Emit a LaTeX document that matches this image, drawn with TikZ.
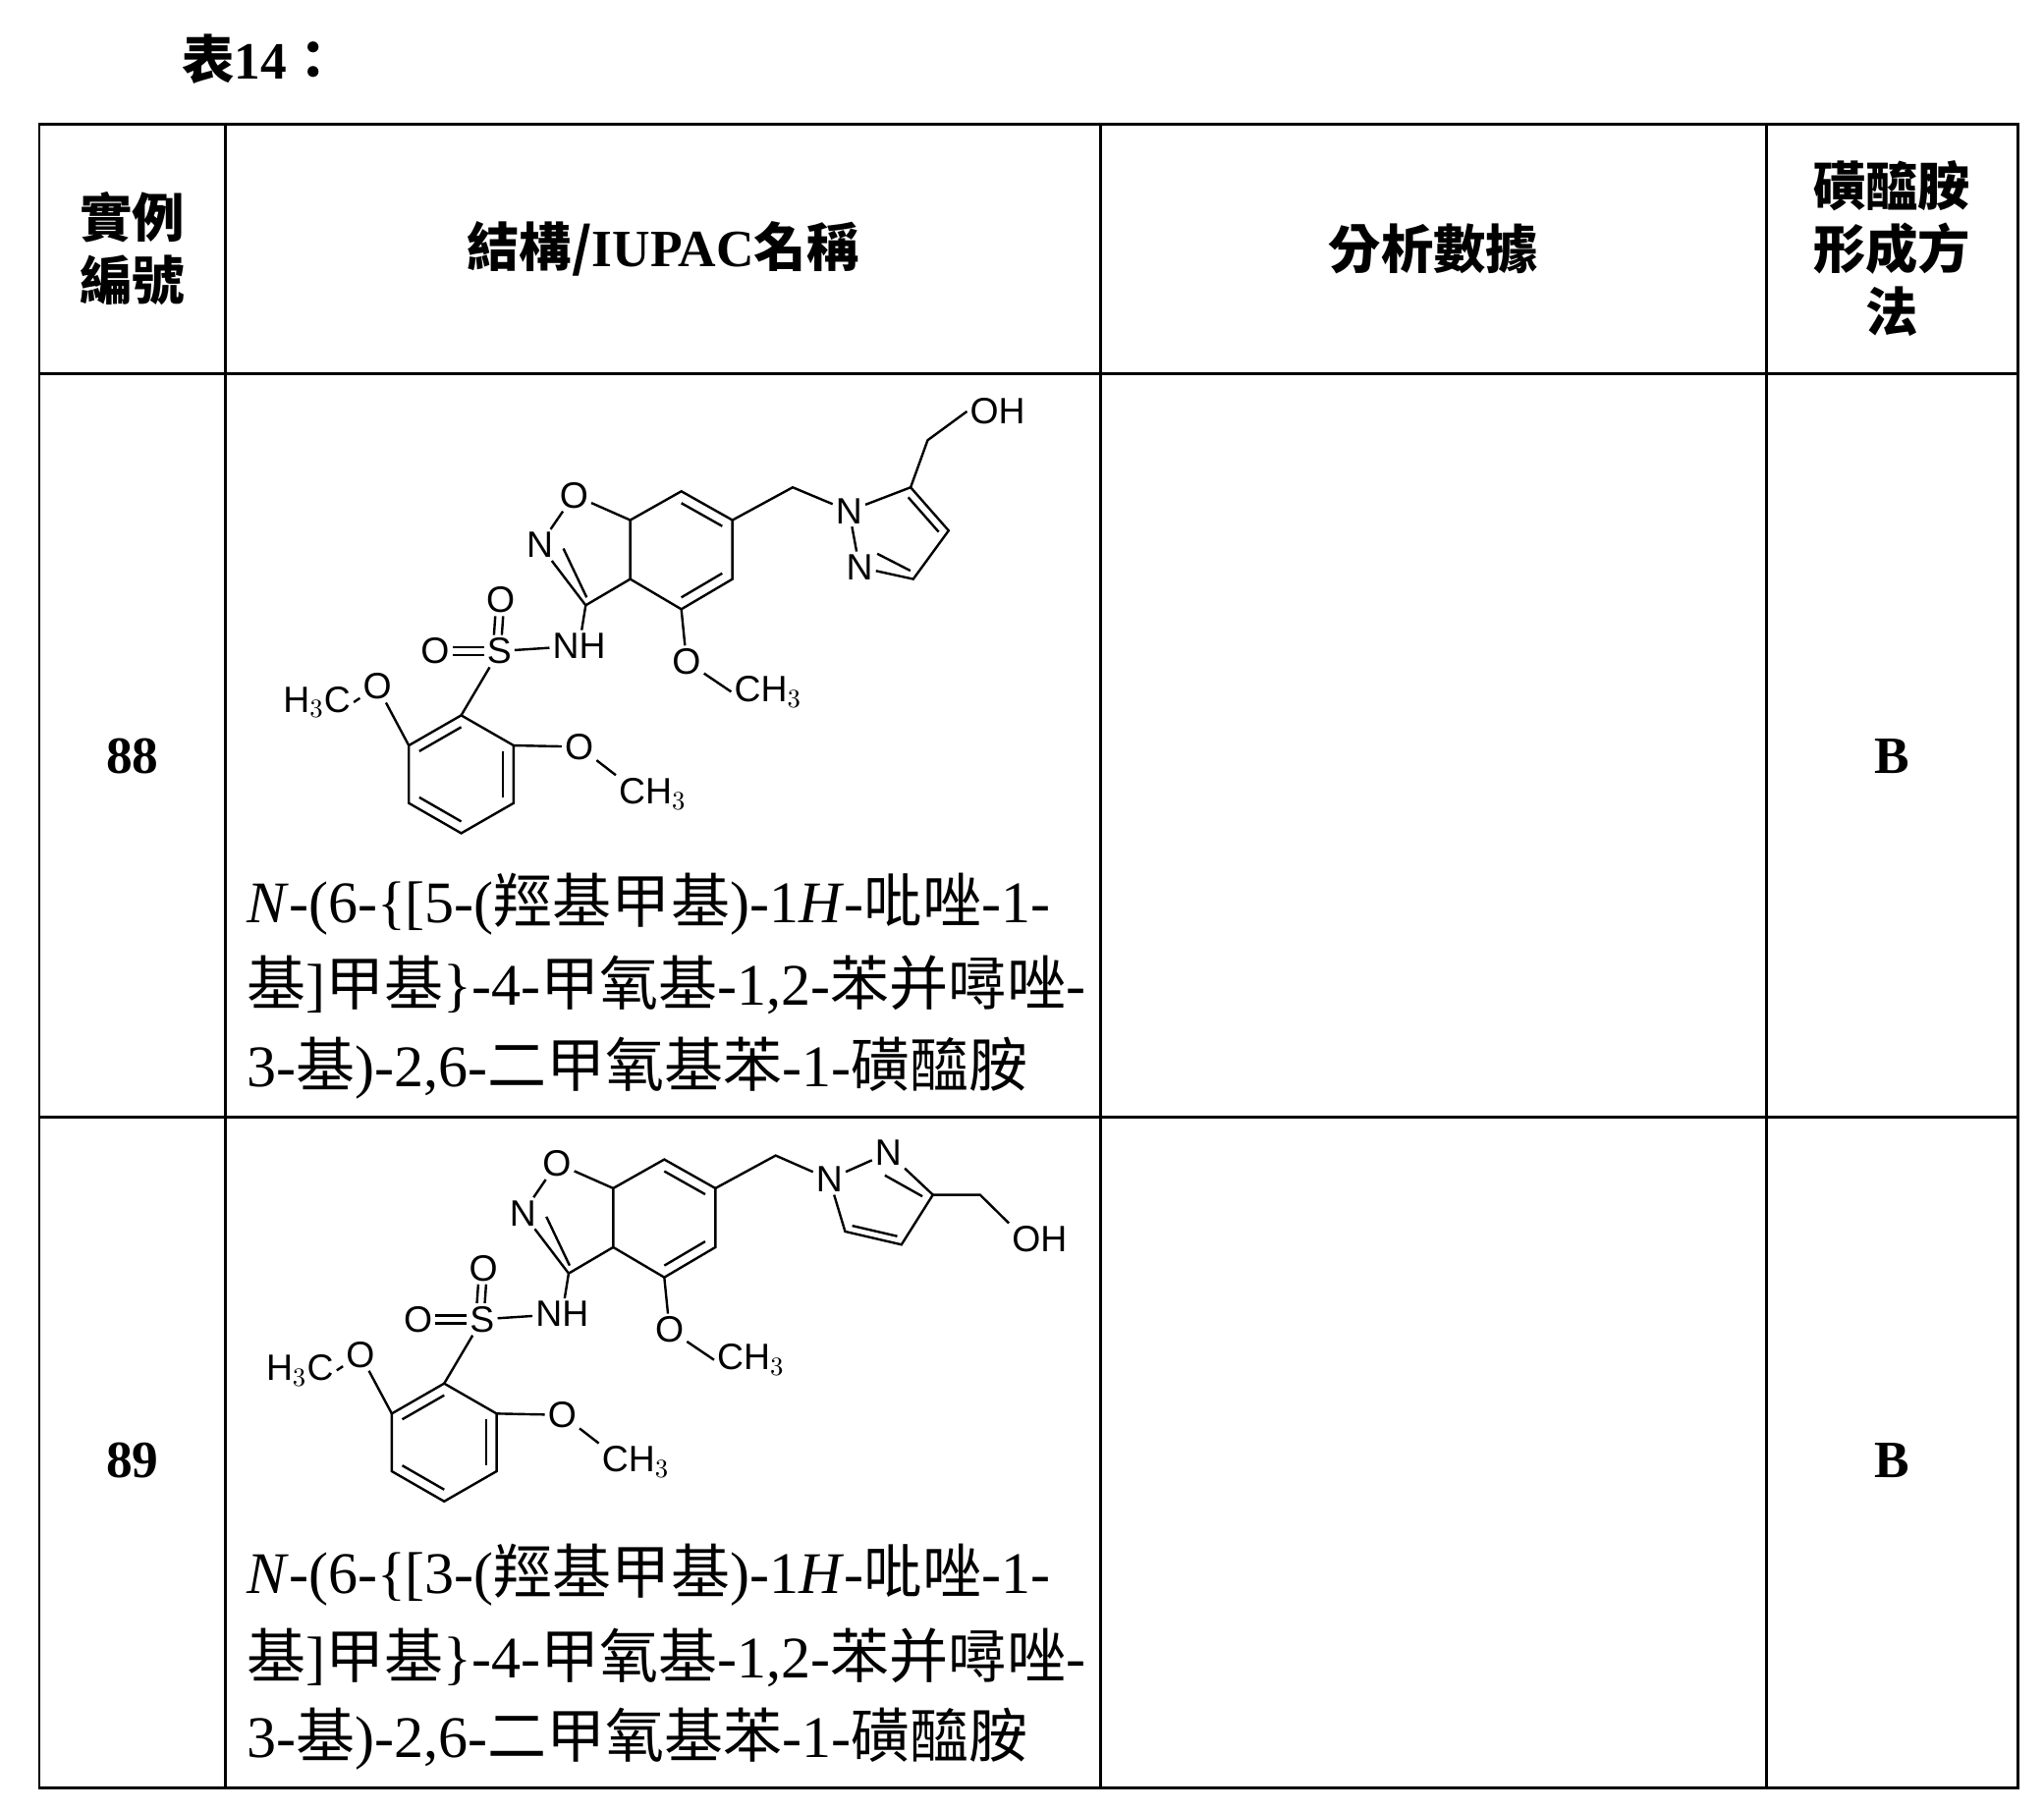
\documentclass[tikz,border=0pt]{standalone}
\usepackage{fontspec}
\setmainfont{Liberation Serif}
\newfontfamily\cjk{Noto Sans CJK TC}
\newfontfamily\chemfont{Liberation Sans}
\usetikzlibrary{calc}

\tikzset{
  atom/.style={font=\chemfont\fontsize{14}{14}\selectfont, inner sep=1pt},
  bond/.style={line width=0.9pt},
  grid/.style={line width=1.1pt},
  head/.style={font=\cjk\bfseries\fontsize{20}{24}\selectfont, align=center},
  namebox/.style={font=\fontsize{22.5}{22.5}\selectfont, anchor=west, inner sep=0pt},
  num/.style={font=\bfseries\fontsize{20}{20}\selectfont}
}
% inner line of an aromatic bond
\newcommand\inbond[3]{\draw[bond] ($(#1)!0.2!(#3)$) -- ($(#2)!0.2!(#3)$);}
% common benzisoxazole / sulfonamide part
\newcommand\core{
\coordinate (bt) at (520,375); \coordinate (bur) at (559,397);
\coordinate (blr) at (559,442); \coordinate (bb) at (520,465);
\coordinate (bll) at (481,442); \coordinate (bul) at (481,397);
\coordinate (bc) at (520,420); \coordinate (ic) at (452,422);
\node[atom] (Oi) at (438,378) {O};
\node[atom] (Ni) at (412,416) {N};
\coordinate (c3) at (447,462);
\draw[bond] (Oi) -- (bul) -- (bt) -- (bur) -- (blr) -- (bb) -- (bll) -- (bul);
\draw[bond] (bll) -- (c3) -- (Ni) -- (Oi);
\inbond{bt}{bur}{bc} \inbond{blr}{bb}{bc}
\draw[bond] ($(c3)!0.15!(ic)$) -- ($(Ni)!0.45!(ic)$);
\node[atom] (NH) at (442,493) {NH};
\node[atom] (S) at (381,497) {S};
\node[atom] (So1) at (382,458) {O};
\node[atom] (So2) at (332,497) {O};
\draw[bond] (c3) -- (NH); \draw[bond] (NH) -- (S);
\draw[bond] ([xshift=-2pt]S.north) -- ([xshift=-2pt]So1.south);
\draw[bond] ([xshift=1pt]S.north) -- ([xshift=1pt]So1.south);
\draw[bond] ([yshift=-1.5pt]S.west) -- ([yshift=-1.5pt]So2.east);
\draw[bond] ([yshift=1.5pt]S.west) -- ([yshift=1.5pt]So2.east);
\node[atom] (Om) at (524,505) {O};
\node[atom, anchor=west] (CHa) at (558,528) {CH$_3$};
\draw[bond] (bb) -- (Om); \draw[bond] (Om) -- (CHa.west);
\coordinate (dt) at (352,546); \coordinate (dur) at (392,569);
\coordinate (dlr) at (392,613); \coordinate (db) at (352,636);
\coordinate (dll) at (312,613); \coordinate (dul) at (312,569);
\coordinate (dc) at (352,591);
\draw[bond] (dt) -- (dur) -- (dlr) -- (db) -- (dll) -- (dul) -- cycle;
\inbond{dur}{dlr}{dc} \inbond{db}{dll}{dc} \inbond{dul}{dt}{dc}
\draw[bond] (S) -- (dt);
\node[atom] (Ol) at (288,524) {O};
\node[atom, anchor=east] (Ml) at (270,536) {H$_3$C};
\draw[bond] (dul) -- (Ol); \draw[bond] (Ol) -- (Ml.east);
\node[atom] (Or) at (442,570) {O};
\node[atom, anchor=west] (Mr) at (470,606) {CH$_3$};
\draw[bond] (dur) -- (Or); \draw[bond] (Or) -- (Mr.north west);
}

\begin{document}
\begin{tikzpicture}[x=0.5pt,y=-0.5pt]
\useasboundingbox (0,0) rectangle (1560,1382);
% table
\draw[grid] (30,95) rectangle (1540,1365);
\draw[grid] (30,285) -- (1540,285);
\draw[grid] (30,853) -- (1540,853);
\foreach \x in {172,840,1348} \draw[grid] (\x,95) -- (\x,1365);
\node[head, anchor=west] (title) at (132,45) {表\textrm{\bfseries 14}：};
\node[head] (h1) at (101,190) {實例\\編號};
\node[head] (h2) at (506,190) {結構/\textrm{\bfseries IUPAC}名稱};
\node[head] (h3) at (1094,190) {分析數據};
\node[head] (h4) at (1444,190) {磺醯胺\\形成方\\法};
\node[num] (n88) at (101,577) {88};
\node[num] (n89) at (101,1115) {89};
\node[num] (b88) at (1444,577) {B};
\node[num] (b89) at (1444,1115) {B};
% example 88
\begin{scope}
\core
\coordinate (ch) at (605,372);
\node[atom] (Np1) at (648,390) {N};
\node[atom] (Np2) at (656,433) {N};
\coordinate (p3) at (697,442); \coordinate (p4) at (724,405);
\coordinate (p5) at (695,372); \coordinate (pc) at (686,410);
\draw[bond] (bur) -- (ch) -- (Np1);
\draw[bond] (Np1) -- (Np2); \draw[bond] (Np2) -- (p3) -- (p4) -- (p5) -- (Np1);
\draw[bond] ($(Np2)!0.45!(pc)$) -- ($(p3)!0.2!(pc)$);
\inbond{p4}{p5}{pc}
\coordinate (ch2) at (708,336);
\node[atom, anchor=west] (OH) at (738,314) {OH};
\draw[bond] (p5) -- (ch2) -- (OH.west);
\end{scope}
\node[namebox] (name88a) at (188,690) {\textit{N}-(6-\{[5-(\cjk 羥基甲基\rmfamily)-1\textit{H}-\cjk 吡唑\rmfamily-1-};
\node[namebox] (name88b) at (188,752) {\cjk 基\rmfamily]\cjk 甲基\rmfamily\}-4-\cjk 甲氧基\rmfamily-1,2-\cjk 苯并噚唑\rmfamily-};
\node[namebox] (name88c) at (188,815) {3-\cjk 基\rmfamily)-2,6-\cjk 二甲氧基苯\rmfamily-1-\cjk 磺醯胺};
% example 89
\begin{scope}[shift={(-13,510)}]
\core
\end{scope}
\coordinate (ch) at (592,882);
\node[atom] (Nq1) at (633,900) {N};
\node[atom] (Nq2) at (678,880) {N};
\coordinate (q3) at (712,912); \coordinate (q4) at (688,950);
\coordinate (q5) at (645,940); \coordinate (qc) at (672,918);
\draw[bond] (546,907) -- (ch) -- (Nq1);
\draw[bond] (Nq1) -- (Nq2) -- (q3) -- (q4) -- (q5) -- (Nq1);
\draw[bond] ($(Nq2)!0.45!(qc)$) -- ($(q3)!0.2!(qc)$);
\inbond{q4}{q5}{qc}
\coordinate (qh) at (748,912);
\node[atom, anchor=west] (OH2) at (770,946) {OH};
\draw[bond] (q3) -- (qh) -- (OH2.north west);
\node[namebox] (name89a) at (188,1202) {\textit{N}-(6-\{[3-(\cjk 羥基甲基\rmfamily)-1\textit{H}-\cjk 吡唑\rmfamily-1-};
\node[namebox] (name89b) at (188,1265) {\cjk 基\rmfamily]\cjk 甲基\rmfamily\}-4-\cjk 甲氧基\rmfamily-1,2-\cjk 苯并噚唑\rmfamily-};
\node[namebox] (name89c) at (188,1327) {3-\cjk 基\rmfamily)-2,6-\cjk 二甲氧基苯\rmfamily-1-\cjk 磺醯胺};
\end{tikzpicture}
\end{document}
